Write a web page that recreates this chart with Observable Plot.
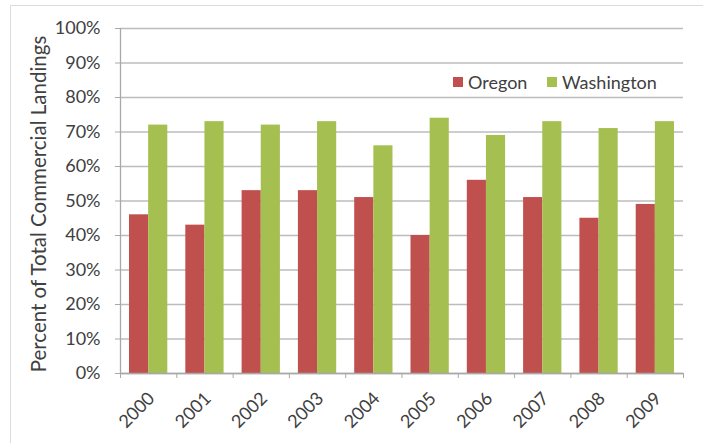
<!DOCTYPE html>
<html><head><meta charset="utf-8">
<script src="https://cdn.jsdelivr.net/npm/d3@7"></script>
<script src="https://cdn.jsdelivr.net/npm/@observablehq/plot@0.6"></script>
<style>
body{margin:0;background:#fff;}
#wrap{position:relative;width:703px;height:443px;font-family:Lato,sans-serif;}
#frame{position:absolute;left:10px;top:5px;right:0;bottom:0;border-top:1px solid #dcdcdc;border-left:1px solid #dcdcdc;pointer-events:none;}
.lg{position:absolute;top:71px;font-size:18px;color:#404040;display:flex;align-items:center;}
.sw{display:inline-block;width:10px;height:10px;margin-right:5px;}
</style></head>
<body>
<div id="wrap"><div id="frame"></div></div>
<script>
const years = [2000, 2001, 2002, 2003, 2004, 2005, 2006, 2007, 2008, 2009];
const oregon = [46, 43, 53, 53, 51, 40, 56, 51, 45, 49];
const washington = [72, 73, 72, 73, 66, 74, 69, 73, 71, 73];
const series = ["Oregon", "Washington"];
const colors = ["#C0504D", "#A5BF50"];
const yTicks = [0, 10, 20, 30, 40, 50, 60, 70, 80, 90, 100];
const yTitle = "Percent of Total Commercial Landings";

const data = years.flatMap((yr, i) => [
  {year: yr, state: series[0], value: oregon[i] / 100},
  {year: yr, state: series[1], value: washington[i] / 100}
]);
const half = 0.34;
const boundaries = [...years.map(y => y - 0.5), years[years.length - 1] + 0.5];

const chart = Plot.plot({
  width: 703, height: 443,
  marginLeft: 120, marginRight: 20, marginTop: 28, marginBottom: 70,
  x: {domain: [years[0] - 0.5, years[years.length - 1] + 0.5]},
  y: {domain: [0, 1]},
  color: {domain: series, range: colors},
  style: {fontFamily: "Lato, sans-serif", fontSize: "18px", color: "#404040", background: "transparent"},
  marks: [
    Plot.gridY(yTicks.map(d => d / 100), {stroke: "#bcbcbc", strokeOpacity: 1, strokeWidth: 1.3}),
    Plot.rectY(data, {
      x1: d => d.state === series[0] ? d.year - half : d.year,
      x2: d => d.state === series[0] ? d.year : d.year + half,
      y: "value", fill: "state"
    }),
    Plot.ruleY([0], {stroke: "#a8a8a8", strokeWidth: 1.3}),
    Plot.ruleX([years[0] - 0.5], {stroke: "#a8a8a8", strokeWidth: 1.3}),
    Plot.axisY({ticks: yTicks.map(d => d / 100), tickFormat: d3.format(".0%"), tickSize: 5, tickPadding: 15, label: null, stroke: "#a8a8a8", fontSize: 18}),
    Plot.axisX({ticks: boundaries, tickFormat: () => "", tickSize: 5, label: null, stroke: "#a8a8a8"}),
    Plot.axisX({ticks: years, tickFormat: d => String(d), tickSize: 0, tickRotate: -45, tickPadding: 22, dx: 3, label: null, fontSize: 18}),
    Plot.text([yTitle], {frameAnchor: "left", textAnchor: "middle", rotate: -90, dx: -81, dy: 3, fontSize: 20.5, fill: "#404040"})
  ]
});
const wrap = document.getElementById("wrap");
wrap.insertBefore(chart, wrap.firstChild);
series.forEach((s, i) => {
  const d = document.createElement("div");
  d.className = "lg";
  d.style.left = (i === 0 ? 453 : 547) + "px";
  d.innerHTML = `<span class="sw" style="background:${colors[i]}"></span>${s}`;
  wrap.appendChild(d);
});
</script>
</body></html>
